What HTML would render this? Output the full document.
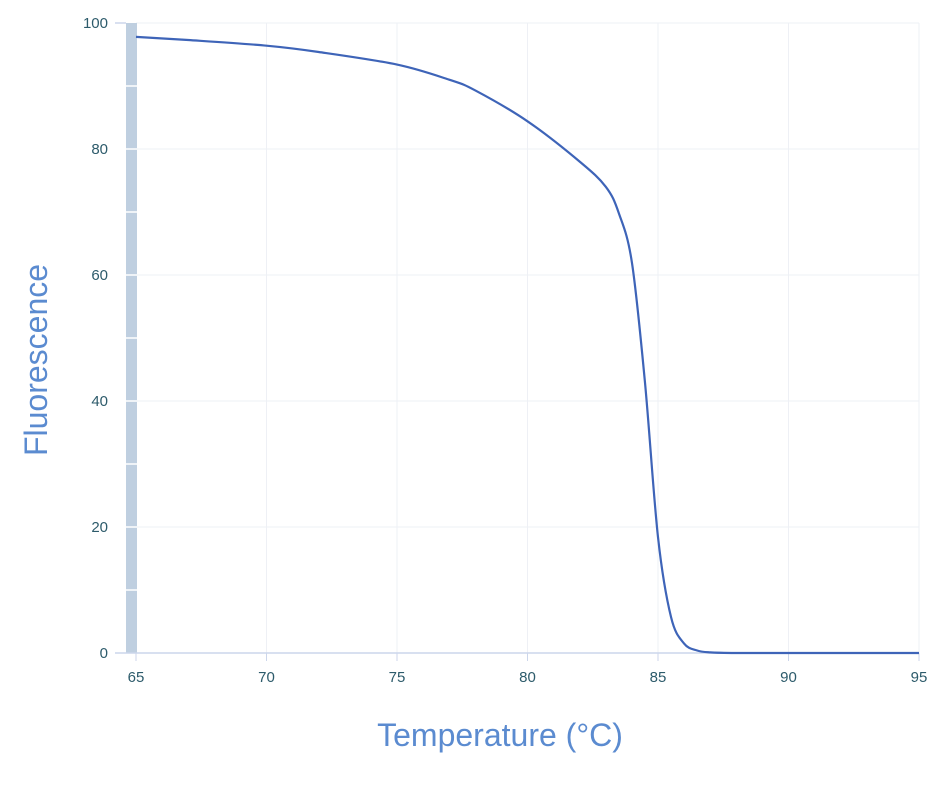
<!DOCTYPE html>
<html><head><meta charset="utf-8"><style>
body{margin:0;background:#fff;width:943px;height:781px;overflow:hidden}
text{font-family:"Liberation Sans",sans-serif}
</style></head><body>
<svg id="chart" width="943" height="781" viewBox="0 0 943 781"></svg>
<script>
const temps=[65,67,70,72,75,77,78,80,82,83,83.5,84,84.5,85,85.5,86,86.5,87,88,90,95];
const fluor=[97.8,97.3,96.4,95.4,93.4,91,89.3,84.4,78,74,69.8,62,43,18.4,5.7,1.5,0.4,0.1,0,0,0];
const xTicks=[65,70,75,80,85,90,95];
const yTicks=[0,20,40,60,80,100];
const NS="http://www.w3.org/2000/svg";
const svg=document.getElementById('chart');
const x=v=>136+(v-65)*(919-136)/30;
const y=v=>653-v*6.3;
function mk(t,a,p){const e=document.createElementNS(NS,t);for(const k in a)e.setAttribute(k,a[k]);(p||svg).appendChild(e);return e;}
// grid
xTicks.forEach(t=>{const l=mk('line',{x1:x(t),x2:x(t),y1:y(100),y2:y(0),stroke:'#eef0f5','stroke-width':1});

});
yTicks.forEach(t=>{const l=mk('line',{x1:x(65),x2:x(95),y1:y(t),y2:y(t),stroke:'#eef0f5','stroke-width':1});

});
// left shaded bar
const bar=mk('rect',{x:126,y:y(100),width:11,height:y(0)-y(100),fill:'#bfcfe0'});


for(let t=10;t<100;t+=10){const g=mk('line',{x1:126,x2:137,y1:y(t),y2:y(t),stroke:'#fff','stroke-width':1.5});

}
// axes
const xa=mk('line',{x1:115,x2:919,y1:y(0),y2:y(0),stroke:'#ccd6eb','stroke-width':1.5});


const yt=mk('line',{x1:115,x2:126,y1:y(100),y2:y(100),stroke:'#ccd6eb','stroke-width':1.5});


xTicks.forEach(t=>{const tk=mk('line',{x1:x(t),x2:x(t),y1:y(0),y2:y(0)+8,stroke:'#ccd6eb'});


const tx=mk('text',{x:x(t),y:682,'text-anchor':'middle','font-size':15,fill:'#2d5b6b'});tx.textContent=t;

});
yTicks.forEach(t=>{const tx=mk('text',{x:108,y:y(t)+5,'text-anchor':'end','font-size':15,fill:'#2d5b6b'});tx.textContent=t;

});
// titles
const xt=mk('text',{x:500,y:746,'text-anchor':'middle','font-size':32,fill:'#5b8bd0'});xt.textContent='Temperature (°C)';


const ytt=mk('text',{x:0,y:0,'text-anchor':'middle','font-size':32,fill:'#5b8bd0',transform:'translate(47,360) rotate(-90)'});ytt.textContent='Fluorescence';


// line (catmull-rom smoothing)
const P=temps.map((t,i)=>[x(t),y(fluor[i])]);
let d='M'+P[0][0]+','+P[0][1];
for(let i=0;i<P.length-1;i++){const p0=P[Math.max(i-1,0)],p1=P[i],p2=P[i+1],p3=P[Math.min(i+2,P.length-1)];
const c1=[p1[0]+(p2[0]-p0[0])/6,p1[1]+(p2[1]-p0[1])/6],c2=[p2[0]-(p3[0]-p1[0])/6,p2[1]-(p3[1]-p1[1])/6];
d+=`C${c1[0]},${c1[1]} ${c2[0]},${c2[1]} ${p2[0]},${p2[1]}`;}
const ln=mk('path',{d:d,fill:'none',stroke:'#3e64b8','stroke-width':2.2});


</script>
</body></html>
